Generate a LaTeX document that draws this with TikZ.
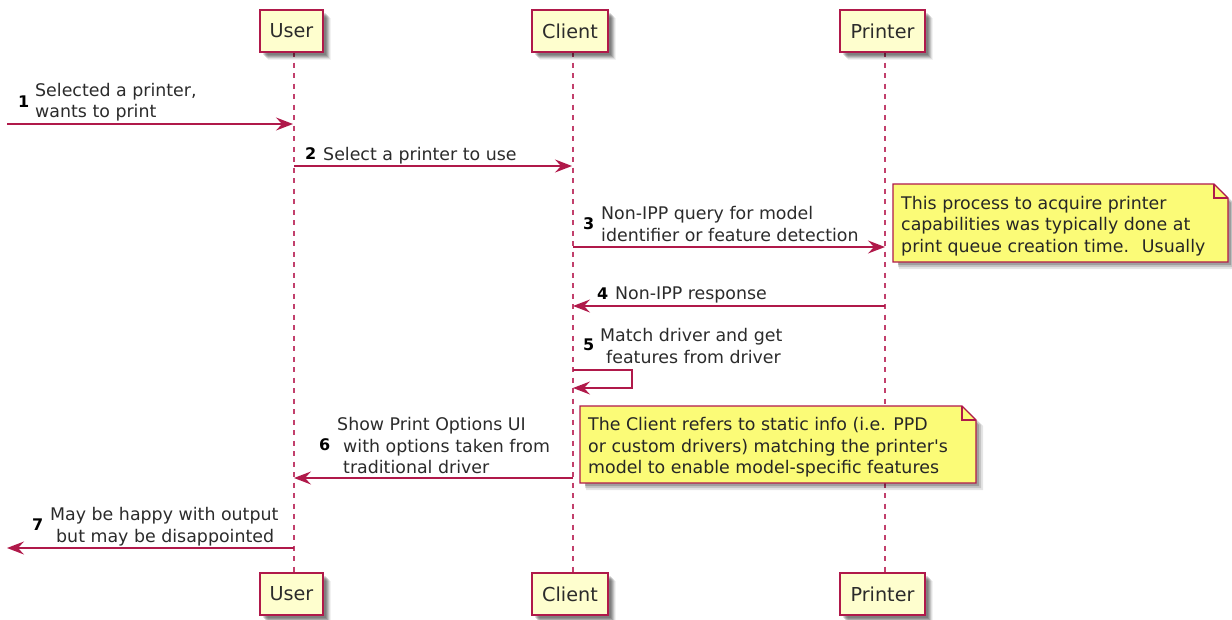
\documentclass[tikz,border=0pt]{standalone}
\usepackage{fontspec}
\setmainfont{DejaVu Sans}[Ligatures=TeXOff]
\usetikzlibrary{arrows.meta,shadows,calc}
\definecolor{pline}{HTML}{B0194A}
\definecolor{plife}{HTML}{C2406C}
\definecolor{pbox}{HTML}{FEFECE}
\definecolor{pnote}{HTML}{FBFB77}
\definecolor{ptext}{HTML}{2B2B2B}
\tikzset{
  softshadow/.style={
    drop shadow={shadow xshift=2.5pt,shadow yshift=-2.5pt,fill=black,opacity=.12},
    drop shadow={shadow xshift=3.5pt,shadow yshift=-3.5pt,fill=black,opacity=.14},
    drop shadow={shadow xshift=4.5pt,shadow yshift=-4.5pt,fill=black,opacity=.14},
    drop shadow={shadow xshift=5.5pt,shadow yshift=-5.5pt,fill=black,opacity=.12},
    drop shadow={shadow xshift=7pt,shadow yshift=-7pt,fill=black,opacity=.08},
    drop shadow={shadow xshift=8pt,shadow yshift=-8pt,fill=black,opacity=.05}},
  actor/.style={draw=pline,fill=pbox,line width=1.6pt,minimum height=42pt,inner sep=0pt,
    text=ptext,font=\fontsize{19.2}{22}\selectfont,softshadow},
  lifeline/.style={draw=plife,line width=1.5pt,dash pattern=on 5pt off 5.5pt},
  msg/.style={draw=pline,line width=1.3pt,-{Stealth[length=17pt,width=13pt,inset=6pt]}},
  selfmsg/.style={draw=pline,line width=1.1pt,-{Stealth[length=17pt,width=13pt,inset=6pt]}},
  lab/.style={anchor=west,inner sep=0pt,align=left,text=ptext,font=\fontsize{17.4}{21.5}\selectfont},
  num/.style={anchor=west,inner sep=0pt,text=black,font=\fontsize{16}{20}\selectfont\bfseries},
  notetext/.style={anchor=west,inner sep=0pt,align=left,text=black!85,font=\fontsize{17.4}{21.5}\selectfont},
  notebody/.style={draw=pline,fill=pnote,line width=1.3pt,line join=miter}
}
\begin{document}
\begin{tikzpicture}[x=1pt,y=-1pt]
\useasboundingbox (0,0) rectangle (1232,619);
% lifelines
\coordinate (uT) at (294,52); \coordinate (uB) at (294,573);
\coordinate (cT) at (573,52); \coordinate (cB) at (573,573);
\coordinate (pT) at (885,52); \coordinate (pB) at (885,573);
\draw[lifeline] (uT) -- (uB);
\draw[lifeline] (cT) -- (cB);
\draw[lifeline] (pT) -- (pB);
% actors
\node[actor,minimum width=63pt] (userT) at (291.5,31) {User};
\node[actor,minimum width=76pt] (clientT) at (570,31) {Client};
\node[actor,minimum width=85pt] (printerT) at (882.5,31) {Printer};
\node[actor,minimum width=63pt] (userB) at (291.5,594) {User};
\node[actor,minimum width=76pt] (clientB) at (570,594) {Client};
\node[actor,minimum width=85pt] (printerB) at (882.5,594) {Printer};
% free ends and ends on lifelines
\coordinate (in1) at (7,124); \coordinate (u1) at (293,124);
\coordinate (u2) at (294,166); \coordinate (c2) at (572,166);
\coordinate (c3) at (573,247); \coordinate (p3) at (885,247);
\coordinate (p4) at (885,306); \coordinate (c4) at (573,306);
\coordinate (c5a) at (573,370); \coordinate (c5b) at (573,388);
\coordinate (c6) at (573,478); \coordinate (u6) at (294,478);
\coordinate (u7) at (294,548); \coordinate (out7) at (7,548);
% messages
\draw[msg] (in1) -- (u1);
\draw[msg] (u2) -- (c2);
\draw[msg] (c3) -- (p3);
\draw[msg] (p4) -- (c4);
\draw[selfmsg] (c5a) -- ++(59,0) -- ++(0,18) -- (c5b);
\draw[msg] (c6) -- (u6);
\draw[msg] (u7) -- (out7);
% labels
\node[num] (n1) at (18,102) {1};
\node[lab] (t1) at (35,102) {Selected a printer,\\wants to print};
\node[num] (n2) at (305,154) {2};
\node[lab] (t2) at (323,155.5) {Select a printer to use};
\node[num] (n3) at (583,224) {3};
\node[lab] (t3) at (601,224) {Non-IPP query for model\\identifier or feature detection};
\node[num] (n4) at (597,294) {4};
\node[lab] (t4) at (615,295) {Non-IPP response};
\node[num] (n5) at (583,345) {5};
\node[lab] (t5) at (600,346) {Match driver and get\\\hspace*{6pt}features from driver};
\node[num] (n6) at (319,445) {6};
\node[lab] (t6) at (337,446) {Show Print Options UI\\\hspace*{6pt}with options taken from\\\hspace*{6pt}traditional driver};
\node[num] (n7) at (32,525) {7};
\node[lab] (t7) at (50,526.5) {May be happy with output\\\hspace*{6pt}but may be disappointed};
% notes
\fill[black,opacity=.1] (899,190) -- (1221,190) -- (1235,204) -- (1235,269) -- (899,269) -- cycle;
\fill[black,opacity=.14] (898,189) -- (1219,189) -- (1233,203) -- (1233,267) -- (898,267) -- cycle;
\fill[black,opacity=.2] (898,189) -- (1217,189) -- (1231,203) -- (1231,265) -- (898,265) -- cycle;
\draw[notebody] (893,184) -- (1214,184) -- (1228,198) -- (1228,262) -- (893,262) -- cycle;
\draw[draw=pline,line width=1.3pt] (1214,184) -- (1214,198) -- (1228,198);
\node[notetext] (note1) at (901,226) {This process to acquire printer\\capabilities was typically done at\\print queue creation time.~ Usually};
\fill[black,opacity=.1] (586,412) -- (969,412) -- (983,426) -- (983,490) -- (586,490) -- cycle;
\fill[black,opacity=.14] (585,411) -- (967,411) -- (981,425) -- (981,488) -- (585,488) -- cycle;
\fill[black,opacity=.2] (585,411) -- (965,411) -- (979,425) -- (979,486) -- (585,486) -- cycle;
\draw[notebody] (580,406) -- (962,406) -- (976,420) -- (976,483) -- (580,483) -- cycle;
\draw[draw=pline,line width=1.3pt] (962,406) -- (962,420) -- (976,420);
\node[notetext] (note2) at (588,447.5) {The Client refers to static info (i.e. PPD\\or custom drivers) matching the printer's\\model to enable model-specific features};
\end{tikzpicture}
\end{document}
